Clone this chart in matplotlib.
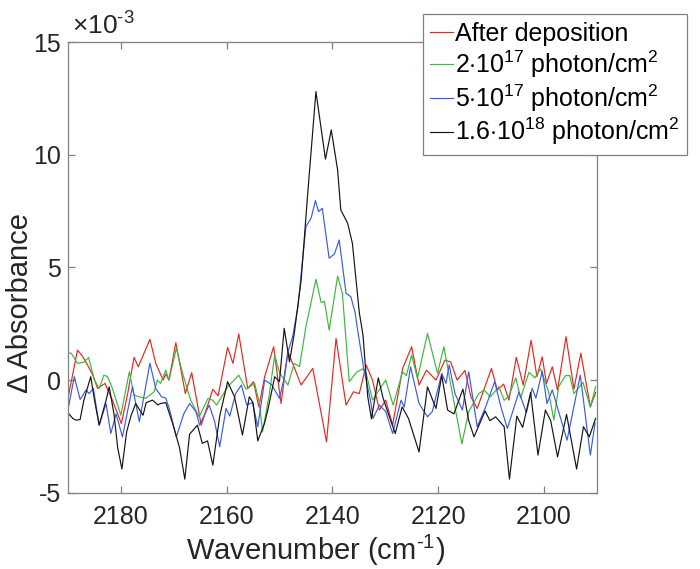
import matplotlib
matplotlib.use("Agg")
import matplotlib.pyplot as plt

plt.rcParams['font.family'] = ['Liberation Sans', 'DejaVu Sans']
plt.rcParams['mathtext.fontset'] = 'custom'
plt.rcParams['mathtext.rm'] = 'Liberation Sans'
plt.rcParams['mathtext.it'] = 'Liberation Sans:italic'
plt.rcParams['axes.unicode_minus'] = False

# Spectra (absorbance in units of 1e-3)
wn_red = [2190.0, 2188.2, 2187.2, 2186.3, 2185.3, 2184.4, 2183.0, 2181.6, 2179.9, 2178.7,
          2177.5, 2176.7, 2174.5, 2173.4, 2172.0, 2171.5, 2170.9, 2169.6, 2167.8, 2166.6,
          2164.8, 2162.6, 2161.6, 2159.8, 2158.8, 2157.7, 2156.0, 2154.9, 2153.9, 2152.8,
          2151.1, 2149.7, 2148.4, 2147.5, 2145.9, 2143.7, 2141.1, 2139.3, 2137.4, 2136.0,
          2134.9, 2133.6, 2132.4, 2131.1, 2129.9, 2128.6, 2126.7, 2125.0, 2123.6, 2122.2,
          2120.4, 2118.7, 2117.6, 2116.4, 2114.9, 2113.8, 2112.6, 2109.9, 2108.8, 2107.6,
          2106.6, 2105.2, 2103.9, 2102.4, 2101.3, 2100.3, 2099.5, 2098.4, 2097.4, 2095.8,
          2094.3, 2093.0, 2091.2, 2090.2]
ab_red = [-0.80, 1.33, 1.04, 0.67, 0.22, -0.37, -0.15, -0.89, -1.93, -0.59,
          1.01, 0.59, 1.81, 0.74, 0.00, 0.27, 0.00, 1.66, -0.60, 0.33,
          -2.00, -0.41, -0.70, 1.45, 0.74, 2.05, -0.37, -0.07, -1.19, 0.15,
          1.48, -1.04, 1.26, 0.74, -0.22, 0.52, -2.74, 1.85, -1.11, -0.52,
          -0.60, 0.67, 0.00, -1.33, -0.89, -2.00, 0.52, 1.48, -0.22, 0.44,
          0.00, 0.89, 0.80, 0.00, 0.43, -0.74, -1.26, 0.52, -0.44, -0.18,
          -0.89, 1.01, -0.22, 1.77, 0.15, 1.03, -0.15, 0.59, -0.45, 1.93,
          -0.40, 1.19, -1.19, -0.55]

wn_green = [2189.9, 2189.4, 2188.2, 2187.0, 2186.1, 2185.0, 2184.1, 2183.2, 2182.5, 2181.6,
            2180.0, 2178.4, 2177.5, 2176.4, 2175.3, 2173.7, 2173.1, 2172.5, 2171.5, 2170.9,
            2169.5, 2168.4, 2166.8, 2165.2, 2163.5, 2162.6, 2161.9, 2159.8, 2157.7, 2156.3,
            2154.7, 2153.8, 2153.2, 2151.9, 2150.9, 2150.0, 2148.4, 2147.2, 2146.2, 2145.0,
            2143.1, 2142.1, 2141.5, 2140.6, 2139.0, 2138.1, 2136.8, 2135.5, 2134.3, 2133.6,
            2132.4, 2129.9, 2128.5, 2126.7, 2126.0, 2125.0, 2123.9, 2122.0, 2120.1, 2118.9,
            2117.3, 2115.5, 2114.2, 2112.3, 2111.3, 2110.1, 2108.5, 2107.5, 2106.6, 2105.3,
            2104.4, 2102.8, 2101.7, 2100.6, 2099.1, 2098.1, 2097.2, 2095.9, 2095.1, 2094.3,
            2092.6, 2091.2, 2090.2]
ab_green = [1.19, 1.20, 0.74, 0.80, 1.00, 0.00, -0.37, 0.22, 0.15, -0.37,
            -1.56, 0.37, -0.67, -0.75, -0.81, -0.52, 0.00, -0.15, 0.44, 0.00,
            1.41, 0.37, -0.89, -1.63, -0.81, -0.90, -1.11, -0.30, 0.22, -0.41,
            -0.15, -1.00, -2.30, -0.60, 1.11, 0.33, -0.22, 0.74, 0.60, 2.37,
            4.47, 3.44, 3.50, 2.22, 4.62, 3.85, -0.07, 0.33, 0.50, 0.30,
            -0.89, 0.00, -1.11, 0.37, 0.20, 1.11, 0.07, 2.07, 0.30, 1.48,
            -0.59, -2.83, -1.40, -0.60, -0.44, -0.74, -0.30, -0.90, -0.70, 0.10,
            -0.80, 0.35, 0.10, 0.50, -0.52, -1.78, -0.30, 0.20, 0.20, -0.60,
            -0.10, -1.19, -0.30]

wn_blue = [2189.9, 2188.8, 2187.7, 2186.6, 2186.0, 2185.2, 2184.1, 2182.8, 2181.9, 2180.9,
           2179.7, 2177.8, 2176.5, 2174.5, 2173.4, 2172.3, 2171.5, 2170.8, 2169.5, 2168.1,
           2167.0, 2165.8, 2165.1, 2163.3, 2162.3, 2161.3, 2160.1, 2159.4, 2158.3, 2157.2,
           2156.2, 2155.1, 2154.1, 2152.8, 2151.5, 2150.0, 2149.2, 2148.4, 2147.5, 2146.5,
           2145.0, 2144.0, 2143.2, 2142.6, 2141.9, 2140.6, 2139.6, 2138.7, 2137.4, 2136.5,
           2135.7, 2135.2, 2134.0, 2132.7, 2132.3, 2131.1, 2129.9, 2128.6, 2127.0, 2126.4,
           2125.2, 2123.6, 2122.0, 2121.1, 2119.3, 2118.5, 2117.9, 2116.8, 2115.4, 2114.2,
           2112.6, 2111.0, 2109.3, 2108.1, 2106.9, 2104.7, 2103.3, 2102.2, 2101.5, 2100.3,
           2099.4, 2098.4, 2095.6, 2093.1, 2091.2, 2090.3]
ab_blue = [-1.19, 0.15, -0.86, -0.44, -0.60, -0.37, -2.00, -1.04, -2.37, -1.50,
           -2.52, -0.30, -1.85, 0.75, -0.37, -0.74, -0.80, -1.30, -2.52, -1.50,
           -1.04, -1.40, -2.00, -1.11, -1.80, -2.96, -1.26, -1.60, -0.60, -0.22,
           -1.10, -1.00, -2.07, 0.00, -0.20, -0.81, 0.00, 1.26, 1.93, 3.26,
           6.81, 7.20, 7.97, 7.48, 7.63, 5.41, 5.60, 6.22, 3.85, 3.70,
           3.00, 2.20, 0.44, -1.00, -1.70, -1.11, -1.40, -2.37, -0.89, -1.20,
           0.59, -1.04, -1.63, -1.40, 0.30, -0.15, 0.67, -0.60, -1.33, 0.37,
           -2.07, -1.19, -0.07, -1.20, -2.15, -0.52, -1.45, -0.37, -0.80, 0.40,
           -1.04, -0.44, -2.67, 0.22, -3.33, -1.90]

wn_black = [2189.9, 2189.1, 2188.5, 2187.7, 2187.0, 2185.7, 2184.9, 2184.1, 2182.8, 2182.2,
            2181.3, 2180.6, 2179.8, 2178.9, 2178.1, 2177.2, 2175.8, 2175.2, 2174.0, 2173.0,
            2172.5, 2171.5, 2170.2, 2168.9, 2167.9, 2167.0, 2165.5, 2164.6, 2163.6, 2162.6,
            2161.3, 2159.8, 2158.5, 2157.0, 2155.7, 2155.0, 2154.1, 2152.8, 2152.2, 2150.9,
            2150.0, 2149.1, 2148.1, 2147.2, 2145.9, 2144.7, 2143.1, 2141.3, 2140.2, 2139.0,
            2138.4, 2137.1, 2136.2, 2134.9, 2134.2, 2133.3, 2132.6, 2131.3, 2130.4, 2129.4,
            2128.1, 2126.8, 2125.6, 2123.6, 2122.0, 2120.4, 2119.3, 2118.2, 2117.0, 2115.3,
            2114.2, 2113.2, 2111.1, 2110.2, 2109.1, 2107.5, 2106.5, 2105.1, 2104.0, 2102.5,
            2101.1, 2099.7, 2098.7, 2097.4, 2095.7, 2093.8, 2092.5, 2091.4, 2090.2]
ab_black = [-1.48, -1.70, -1.78, -1.75, -0.90, 0.15, -1.00, -2.00, -0.90, -0.30,
            -1.50, -3.00, -3.95, -2.30, -1.60, -1.04, -1.56, -1.00, -0.89, -1.10,
            -1.04, -1.00, -1.93, -3.00, -4.40, -2.40, -2.00, -2.81, -2.70, -3.78,
            -1.60, -0.07, -0.74, -2.44, -0.74, -1.00, -2.70, -1.90, -1.33, 0.15,
            -0.07, 2.30, 0.81, 2.07, 4.44, 8.15, 12.81, 9.81, 11.11, 9.33,
            7.56, 6.96, 6.07, 3.00, 2.00, -0.74, -1.72, 0.10, -0.80, -1.50,
            -2.37, -1.19, -1.70, -3.19, -0.30, -1.26, 0.20, -1.33, -1.50, -0.40,
            -1.80, -2.52, -1.37, -1.80, -1.63, -2.07, -4.40, -1.60, -2.10, -0.55,
            -3.33, -1.33, -1.80, -3.41, -1.52, -3.95, -2.07, -2.52, -1.70]

labels = ['After deposition',
          r'2$\cdot$10$^{17}$ photon/cm$^2$',
          r'5$\cdot$10$^{17}$ photon/cm$^2$',
          r'1.6$\cdot$10$^{18}$ photon/cm$^2$']
colors = ['#e8251f', '#3cb83c', '#3a5ae8', '#141414']

fig = plt.figure(figsize=(7.0, 5.69), dpi=100)
ax = fig.add_axes([0.0971, 0.1341, 0.7553, 0.7916])

series = [(wn_red, ab_red), (wn_green, ab_green), (wn_blue, ab_blue), (wn_black, ab_black)]
for (wn, ab), lab, col in zip(series, labels, colors):
    ax.plot(wn, ab, color=col, linewidth=0.85, label=lab)

ax.set_xlim(2190, 2090)
ax.set_ylim(-5, 15)
ax.set_xticks([2180, 2160, 2140, 2120, 2100])
ax.set_yticks([-5, 0, 5, 10, 15])

for s in ax.spines.values():
    s.set_color('#808080')
    s.set_linewidth(0.9)
ax.tick_params(direction='in', top=True, right=True, length=5, width=0.9,
               color='#808080', labelsize=18, labelcolor='#262626')
ax.tick_params(axis='x', pad=9)
ax.tick_params(axis='y', pad=5)

ax.text(0.008, 1.016, r'$\times$10$^{\text{-}3}$', transform=ax.transAxes,
        ha='left', va='baseline', fontsize=19, color='#262626')

ax.set_xlabel(r'Wavenumber (cm$^{\text{-}1}$)', fontsize=21, color='#262626')
ax.set_ylabel('Δ Absorbance', fontsize=21, color='#262626')
ax.xaxis.set_label_coords(0.469, -0.089)
ax.yaxis.set_label_coords(-0.065, 0.421)

leg = fig.legend(loc='upper right', bbox_to_anchor=(0.982, 0.975), fontsize=18,
                 handlelength=0.9, handletextpad=0.1, labelspacing=0.1,
                 borderpad=0.3, borderaxespad=0.0, fancybox=False, framealpha=1)
leg.get_frame().set_edgecolor('#808080')
leg.get_frame().set_linewidth(0.9)

fig.savefig('out.png', dpi=100, facecolor='white')
